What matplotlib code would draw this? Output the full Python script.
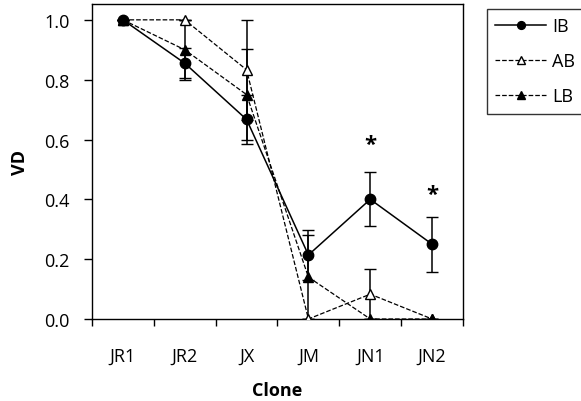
import matplotlib
matplotlib.use("Agg")
import matplotlib.pyplot as plt

clones = ["JR1", "JR2", "JX", "JM", "JN1", "JN2"]
ib = [1.0, 0.855, 0.667, 0.214, 0.4, 0.25]
ib_err = [0.0, 0.05, 0.083, 0.083, 0.09, 0.092]
ab = [1.0, 1.0, 0.833, 0.0, 0.083, 0.0]
ab_err = [0.0, 0.0, 0.167, 0.0, 0.083, 0.0]
lb = [1.0, 0.9, 0.75, 0.14, 0.0, 0.0]
lb_err = [0.0, 0.1, 0.153, 0.14, 0.0, 0.0]
stars = {"JN1": 0.585, "JN2": 0.415}

plt.rcParams['font.family'] = ['Open Sans', 'DejaVu Sans']

fig = plt.figure(figsize=(5.81, 4.02), dpi=100)
ax = fig.add_axes([0.1583, 0.204, 0.6386, 0.7836])

x = list(range(len(clones)))

ax.errorbar(x, ib, yerr=ib_err, color='black', linestyle='-', linewidth=1.1,
            marker='o', markersize=7.5, capsize=4, elinewidth=1.1, label='IB', zorder=3)
ax.errorbar(x, ab, yerr=ab_err, color='black', linestyle='--', linewidth=0.9,
            marker='^', markersize=7, markerfacecolor='white', capsize=4,
            elinewidth=1.1, label='AB', zorder=3)
ax.errorbar(x, lb, yerr=lb_err, color='black', linestyle='--', linewidth=0.9,
            marker='^', markersize=7, capsize=4, elinewidth=1.1, label='LB', zorder=3)

for name, yv in stars.items():
    ax.text(clones.index(name), yv, "*", ha='center', va='center', fontsize=16,
            fontweight='bold')

ax.set_xlim(-0.5, 5.5)
ax.set_ylim(0, 1.053)
ax.set_xticks([i - 0.5 for i in range(len(clones) + 1)])
ax.set_xticklabels([])
ax.set_xticks(x, minor=True)
ax.set_xticklabels(clones, minor=True)
ax.tick_params(axis='x', which='major', direction='out', length=5, width=1)
ax.tick_params(axis='x', which='minor', length=0, pad=20, labelsize=13)
ax.set_yticks([0.0, 0.2, 0.4, 0.6, 0.8, 1.0])
ax.set_yticklabels(["0.0", "0.2", "0.4", "0.6", "0.8", "1.0"])
ax.tick_params(axis='y', direction='out', length=6, width=1, labelsize=13, pad=10)
for s in ax.spines.values():
    s.set_linewidth(1.0)

ax.set_xlabel("Clone", fontsize=13, fontweight='bold', labelpad=12)
ax.set_ylabel("VD", fontsize=13, fontweight='bold', labelpad=11)

handles, labels = ax.get_legend_handles_labels()
handles = [h[0] for h in handles]
leg = ax.legend(handles, labels, loc='upper left', bbox_to_anchor=(1.065, 0.984),
                frameon=True, fancybox=False, edgecolor='black', fontsize=13,
                handlelength=2.8, handletextpad=0.35, borderaxespad=0,
                labelspacing=0.95, borderpad=0.45, markerscale=0.75)
leg.get_frame().set_linewidth(1.0)

fig.savefig("out.png", dpi=100)
